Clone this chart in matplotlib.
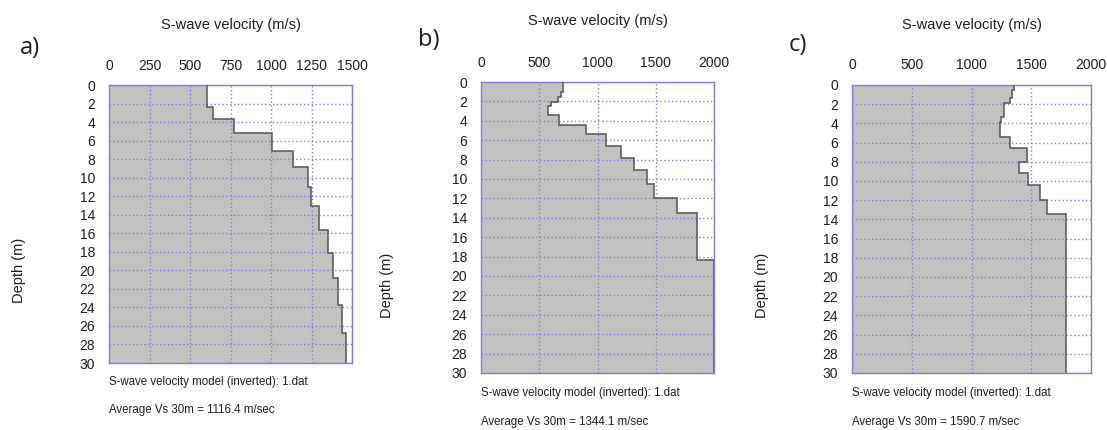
import numpy as np
import matplotlib.pyplot as plt

depth_a = [0, 2.4, 3.7, 5.2, 7.1, 8.9, 11.0, 13.1, 15.6, 18.1, 20.8, 23.7, 26.8, 30]
vs_a = [602, 639, 771, 1007, 1136, 1229, 1249, 1297, 1352, 1383, 1414, 1439, 1461]

depth_b = [0, 1.03, 1.54, 2.06, 2.51, 3.43, 4.46, 5.39, 6.62, 7.79, 9.03, 10.47, 11.91, 13.49, 18.36, 30]
vs_b = [706, 683, 660, 603, 575, 669, 905, 1075, 1201, 1309, 1428, 1488, 1679, 1855, 2000]

depth_c = [0, 0.52, 1.39, 1.91, 3.30, 3.82, 5.38, 6.60, 8.06, 9.13, 10.42, 11.98, 13.47, 30]
vs_c = [1356, 1337, 1318, 1269, 1247, 1236, 1318, 1468, 1399, 1473, 1569, 1631, 1787]

xticks_a = [0, 250, 500, 750, 1000, 1250, 1500]
xticks_bc = [0, 500, 1000, 1500, 2000]
depth_ticks = list(range(0, 31, 2))

labels = ['a)', 'b)', 'c)']
avg_vs = ['1116.4', '1344.1', '1590.7']

plt.rcParams['font.family'] = ['Liberation Sans', 'DejaVu Sans']

fig = plt.figure(figsize=(11.07, 4.30), dpi=100)

# axes boxes in figure fractions
boxes = [[0.0985, 0.1558, 0.2195, 0.6465],
         [0.4345, 0.1326, 0.2105, 0.6767],
         [0.7696, 0.1326, 0.2160, 0.6698]]
# panel letter and y-label spots (axes fractions)
letter_xy = [(-0.366, 1.133), (-0.27, 1.144), (-0.265, 1.139)]
ylab_xy = [(-0.34, 0.335), (-0.375, 0.30), (-0.345, 0.305)]
title_pad = [21, 22, 21]
data = [(depth_a, vs_a, xticks_a), (depth_b, vs_b, xticks_bc), (depth_c, vs_c, xticks_bc)]

blue = '#7e7ee0'
ink = '#1e1e1e'
for i, (box, (dep, vs, xt)) in enumerate(zip(boxes, data)):
    ax = fig.add_axes(box)
    ax.stairs(vs, dep, orientation='horizontal', baseline=0, fill=True,
              color='#c2c2c0', zorder=1)
    ax.stairs(vs, dep, orientation='horizontal', baseline=None,
              color='#555555', linewidth=1.1, zorder=3)
    ax.set_xlim(xt[0], xt[-1])
    ax.set_ylim(30, 0)
    ax.set_xticks(xt)
    ax.set_yticks(depth_ticks)
    ax.xaxis.tick_top()
    ax.tick_params(length=0, labelsize=10, colors=ink, pad=9)
    ax.tick_params(axis='y', pad=10)
    ax.grid(True, color=blue, linestyle=(0, (1, 1.8)), linewidth=1.0, zorder=2)
    ax.set_axisbelow(False)
    for sp in ax.spines.values():
        sp.set_color(blue)
        sp.set_linewidth(1.0)
    ax.set_xlabel('S-wave velocity (m/s)', fontsize=10.5, labelpad=title_pad[i], color=ink)
    ax.xaxis.set_label_position('top')
    ax.set_ylabel('Depth (m)', fontsize=10.5, color=ink)
    ax.yaxis.set_label_coords(*ylab_xy[i])
    ax.text(letter_xy[i][0], letter_xy[i][1], labels[i], transform=ax.transAxes,
            fontsize=17, family=['Open Sans', 'DejaVu Sans'], ha='left', va='center', color=ink)
    ax.text(0.0, -0.07, 'S-wave velocity model (inverted): 1.dat',
            transform=ax.transAxes, fontsize=8.3, ha='left', va='center', color=ink)
    ax.text(0.0, -0.17, 'Average Vs 30m = ' + avg_vs[i] + ' m/sec',
            transform=ax.transAxes, fontsize=8.3, ha='left', va='center', color=ink)

plt.savefig('out.png', dpi=100)
